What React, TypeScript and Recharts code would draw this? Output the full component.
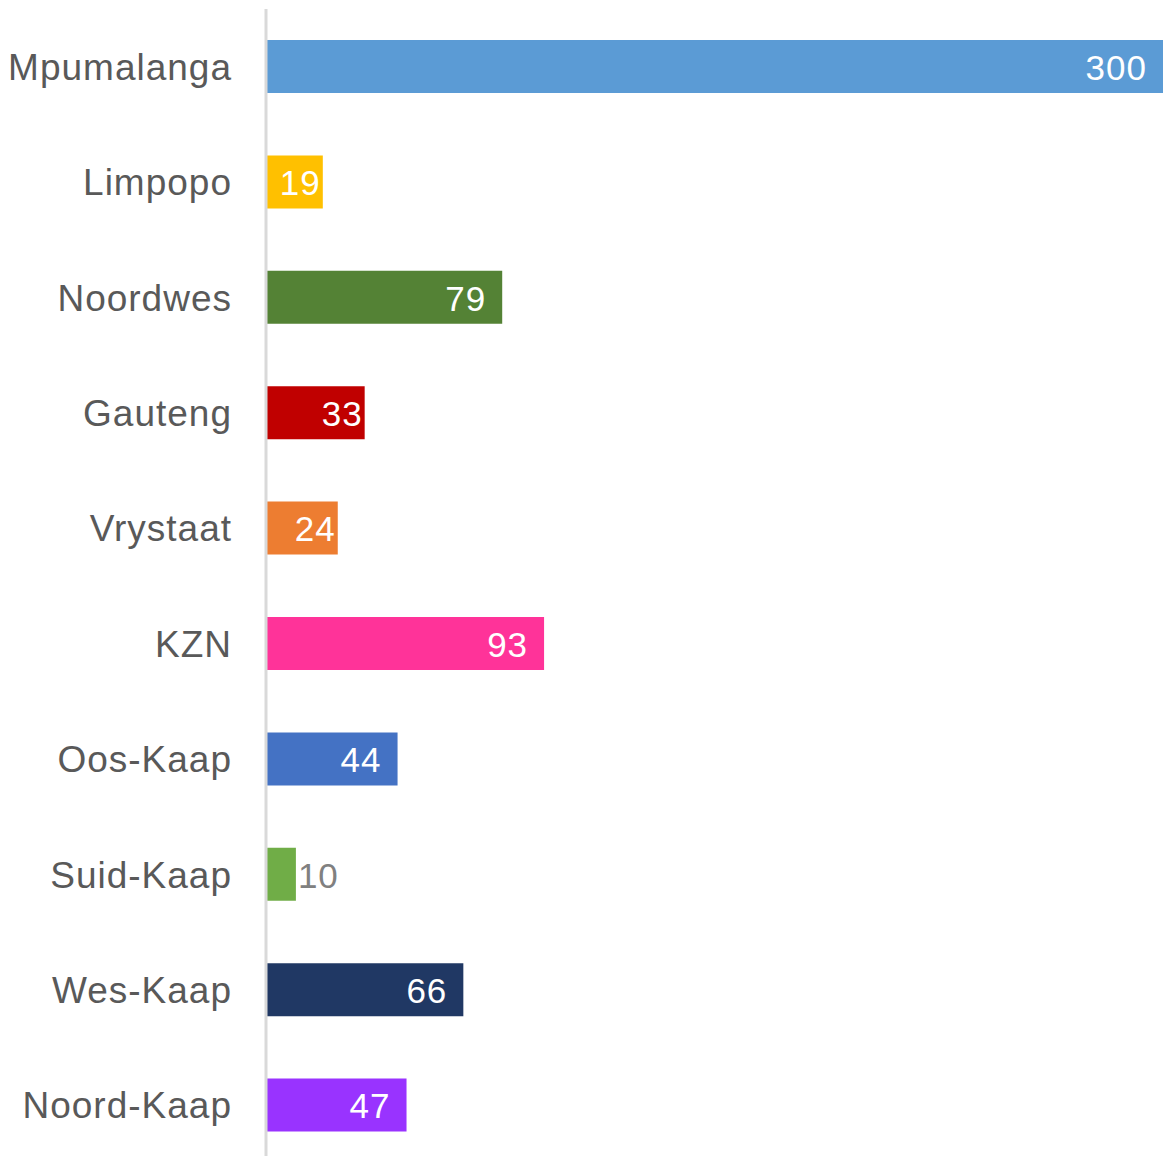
import { BarChart, Bar, XAxis, YAxis, Cell, LabelList } from 'recharts';

const provinces = [
  'Mpumalanga',
  'Limpopo',
  'Noordwes',
  'Gauteng',
  'Vrystaat',
  'KZN',
  'Oos-Kaap',
  'Suid-Kaap',
  'Wes-Kaap',
  'Noord-Kaap',
];
const counts = [300, 19, 79, 33, 24, 93, 44, 10, 66, 47];
const barColors = [
  '#5B9BD5',
  '#FFC000',
  '#548235',
  '#C00000',
  '#ED7D31',
  '#FF3399',
  '#4472C4',
  '#70AD47',
  '#203864',
  '#9933FF',
];

const data = provinces.map((name, i) => ({ name, value: counts[i] }));

const FONT = '"Liberation Sans", Arial, sans-serif';

function ValueLabel(props: any) {
  const { x, y, width, height, value } = props;
  const cy = y + height / 2;
  if (width < 45) {
    return (
      <text x={x + width + 2} y={cy} dy="0.38em" textAnchor="start" fill="#808080" fontSize={35} fontFamily={FONT} letterSpacing={1}>
        {value}
      </text>
    );
  }
  const pad = width < 120 ? 2 : 16;
  return (
    <text x={x + width - pad} y={cy} dy="0.38em" textAnchor="end" fill="#ffffff" fontSize={35} fontFamily={FONT} letterSpacing={1}>
      {value}
    </text>
  );
}

export default function App() {
  return (
    <div style={{ position: 'absolute', top: 0, left: 0, background: '#fff' }}>
      <BarChart
        width={1163}
        height={1163}
        data={data}
        layout="vertical"
        margin={{ top: 9, right: 0, bottom: 0, left: 0 }}
        barCategoryGap={31}
      >
        <XAxis type="number" domain={[0, 300]} hide />
        <YAxis
          type="category"
          dataKey="name"
          width={266}
          axisLine={{ stroke: '#d9d9d9', strokeWidth: 3 }}
          tickLine={false}
          tickSize={0}
          tickMargin={34}
          tick={{ fill: '#595959', fontSize: 37, fontFamily: FONT, letterSpacing: 1 }}
          interval={0}
        />
        <Bar dataKey="value" barSize={53} isAnimationActive={false}>
          {data.map((d, i) => (
            <Cell key={d.name} fill={barColors[i]} />
          ))}
          <LabelList dataKey="value" content={ValueLabel} />
        </Bar>
      </BarChart>
    </div>
  );
}
